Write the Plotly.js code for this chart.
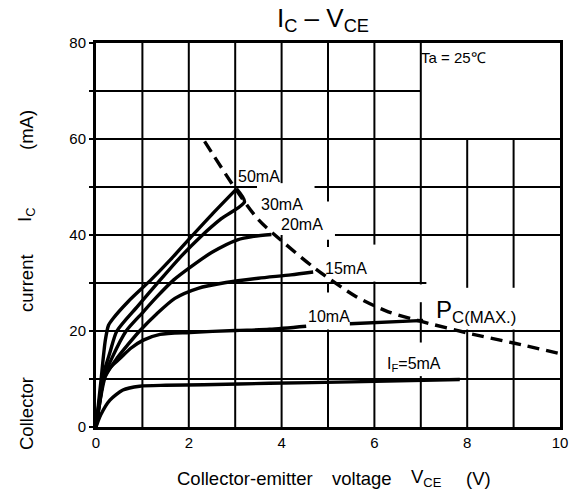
<!DOCTYPE html>
<html>
<head>
<meta charset="utf-8">
<script src="https://cdn.plot.ly/plotly-3.0.1.min.js"></script>
<style>html,body{margin:0;padding:0;background:#fff;}#chart{width:576px;height:497px;}</style>
</head>
<body>
<div id="chart"></div>
<script>
// ---- data ----
const vceTicks = [0, 2, 4, 6, 8, 10];
const icTickVals = [0, 10, 20, 30, 40, 50, 60, 70, 80];
const icTickText = ['0', '', '20', '', '40', '', '60', '', '80'];

const v5  = [0, 0.1, 0.3, 0.58, 0.94, 1.5, 2.32, 3.74, 5.5, 7.84];
const i5  = [0, 2.5, 5.6, 7.7, 8.5, 8.7, 8.8, 9.1, 9.4, 9.9];

const v10 = [0, 0.08, 0.16, 0.3, 0.52, 0.75, 1.02, 1.38, 2.02, 3.0, 3.74, 4.53, null, 5.47, 6.84, 7.05];
const i10 = [0, 5, 9.8, 12.3, 14.3, 16.4, 18.1, 19.3, 19.7, 20.1, 20.35, 21.0, null, 21.5, 22.1, 22.2];

const v15 = [0, 0.08, 0.2, 0.45, 0.7, 0.95, 1.3, 1.7, 2.2, 2.8, 3.5, 4.2, 4.68];
const i15 = [0, 5, 10.5, 14.3, 17.3, 20.1, 23.5, 26.8, 28.9, 30.1, 31.0, 31.7, 32.3];

const v20 = [0, 0.08, 0.18, 0.35, 0.65, 1.0, 1.3, 1.67, 2.02, 2.5, 3.05, 3.4, 3.78];
const i20 = [0, 5.5, 10.5, 14.5, 20, 23.8, 27, 30.6, 33.2, 36.4, 39.0, 39.7, 40.1];

const v30 = [0, 0.08, 0.16, 0.3, 0.45, 0.9, 1.38, 1.8, 2.25, 2.7, 3.2, 3.03];
const i30 = [0, 6, 11, 15.5, 20, 25.2, 30.6, 35.2, 39.6, 43.4, 46.9, 49.6];

const v50 = [0, 0.1, 0.2, 0.27, 0.36, 0.7, 1.2, 1.6, 2.05, 2.5, 3.03];
const i50 = [0, 9, 18, 21.2, 22.5, 26.2, 30.8, 34.8, 39.6, 44.3, 49.6];

const vPc = [2.34, 3.0, 3.5, 4.0, 4.7, 5.6, 6.3, 7.05, 8.0, 9.0, 9.95];
const iPc = [59.5, 49.7, 43.2, 38.8, 33.2, 27.2, 24.0, 21.9, 19.6, 17.5, 15.4];

// axis title words
const xTitleWords = ['Collector-emitter', 'voltage', 'V<sub>CE</sub>', '(V)'];
const yTitleWords = ['Collector', 'current', 'I<sub>C</sub>', '(mA)'];

// grid segments (datasheet grid has gaps around labels)
const gridV = [
  [1, [[0, 80]]], [2, [[0, 80]]], [3, [[0, 80]]],
  [4, [[0, 40], [50.8, 80]]],
  [5, [[0, 20.3], [28, 30], [37.5, 39], [47, 80]]],
  [6, [[0, 30.3], [38, 80]]],
  [7, [[0, 10.6], [17.6, 26], [29.7, 80]]],
  [8, [[0, 20.3], [29, 60]]],
  [9, [[0, 20.3], [29, 60]]]
];
const gridH = [
  [10, [[0, 10]]], [20, [[0, 10]]], [30, [[0, 7.12]]],
  [40, [[0, 3.75], [5.15, 10]]],
  [50, [[0, 3.47], [4.71, 10]]],
  [60, [[0, 10]]], [70, [[0, 7]]]
];

// ---- chart ----
const FONT = 'Liberation Sans, Arial, sans-serif';
const curve = (x, y) => ({
  x: x, y: y, type: 'scatter', mode: 'lines',
  line: {color: '#000', width: 3.4, shape: 'spline', smoothing: 0.7},
  connectgaps: false, hoverinfo: 'skip', showlegend: false
});
const traces = [
  curve(v5, i5), curve(v10, i10), curve(v15, i15),
  curve(v20, i20), curve(v30, i30), curve(v50, i50),
  {x: vPc, y: iPc, type: 'scatter', mode: 'lines',
   line: {color: '#000', width: 3.4, dash: '12px,7px', shape: 'spline', smoothing: 0.8},
   hoverinfo: 'skip', showlegend: false}
];

const shapes = [];
gridV.forEach(([x, segs]) => segs.forEach(([a, b]) => shapes.push({
  type: 'line', xref: 'x', yref: 'y', x0: x, x1: x, y0: a, y1: b,
  line: {color: '#000', width: 2}, layer: 'below'})));
gridH.forEach(([y, segs]) => segs.forEach(([a, b]) => shapes.push({
  type: 'line', xref: 'x', yref: 'y', x0: a, x1: b, y0: y, y1: y,
  line: {color: '#000', width: 2}, layer: 'below'})));

// pixel helpers for annotation placement
const L = 96, R = 560, T = 43, B = 427;
const dx = p => (p - L) / (R - L) * 10;
const dy = p => (B - p) / (B - T) * 80;
const px = p => (p - L) / (R - L);
const py = p => (B - p) / (B - T);

const lab = (text, xp, yp, size) => ({
  text: text, x: dx(xp), y: dy(yp), xref: 'x', yref: 'y',
  xanchor: 'left', yanchor: 'middle', showarrow: false,
  font: {family: FONT, size: size || 16, color: '#000'}
});

const annotations = [
  {text: 'I<sub>C</sub> – V<sub>CE</sub>', x: px(323), y: py(19), xref: 'paper', yref: 'paper',
   xanchor: 'center', yanchor: 'middle', showarrow: false,
   font: {family: FONT, size: 26, color: '#000'}},
  lab('Ta = 25℃', 419, 57, 15),
  lab('50mA', 236, 176.5),
  lab('30mA', 259, 204),
  lab('20mA', 279, 224.5),
  lab('15mA', 323, 268.5),
  lab('10mA', 306, 316.5),
  lab('I<sub>F</sub>=5mA', 385, 364),
  lab('P<sub>C(MAX.)</sub>', 434, 311, 24)
];

// x-axis title words (centre x in px), y-axis title words (centre y in px)
const xWordPos = [245, 362, 426, 478];
const yWordPos = [414, 283, 215, 130];
xTitleWords.forEach((w, k) => annotations.push({
  text: w, x: px(xWordPos[k]), y: py(478), xref: 'paper', yref: 'paper',
  xanchor: 'center', yanchor: 'middle', showarrow: false,
  font: {family: FONT, size: 18.5, color: '#000'}}));
yTitleWords.forEach((w, k) => annotations.push({
  text: w, x: px(26), y: py(yWordPos[k]), xref: 'paper', yref: 'paper',
  xanchor: 'center', yanchor: 'middle', textangle: -90, showarrow: false,
  font: {family: FONT, size: 18.5, color: '#000'}}));

const layout = {
  width: 576, height: 497,
  margin: {l: L, r: 576 - R, t: T, b: 497 - B, pad: 0},
  paper_bgcolor: '#fff', plot_bgcolor: '#fff',
  showlegend: false,
  font: {family: FONT, color: '#000'},
  xaxis: {range: [0, 10], tickvals: vceTicks, ticktext: vceTicks.map(String),
          showgrid: false, zeroline: false, showline: true, mirror: true,
          linecolor: '#000', linewidth: 3, ticks: '', tickfont: {size: 15, family: FONT, color: '#000'},
          fixedrange: true},
  yaxis: {range: [0, 80], tickvals: icTickVals, ticktext: icTickText,
          showgrid: false, zeroline: false, showline: true, mirror: true,
          linecolor: '#000', linewidth: 3, ticks: 'outside', ticklen: 4, tickwidth: 1.5, tickcolor: '#000',
          tickfont: {size: 15, family: FONT, color: '#000'}, fixedrange: true},
  shapes: shapes,
  annotations: annotations
};

Plotly.newPlot('chart', traces, layout, {staticPlot: true, displayModeBar: false});
</script>
</body>
</html>
